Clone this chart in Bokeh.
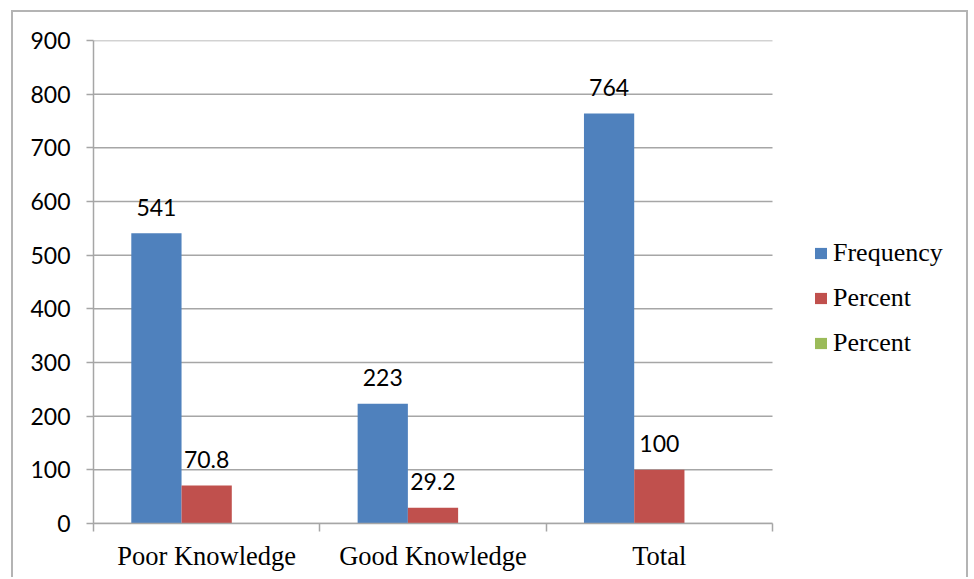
from bokeh.plotting import figure
from bokeh.models import (ColumnDataSource, FixedTicker, Legend, LegendItem,
                          LabelSet, Range1d)
from bokeh.core.properties import value
from bokeh.embed import file_html
from bokeh.resources import INLINE

# Knowledge level counts and shares
categories = ["Poor Knowledge", "Good Knowledge", "Total"]
frequency = [541, 223, 764]
percent = [70.8, 29.2, 100]
percent_2 = [0, 0, 0]
series_names = ["Frequency", "Percent", "Percent"]
series_colors = ["#4F81BD", "#C0504D", "#9BBB59"]
y_ticks = [0, 100, 200, 300, 400, 500, 600, 700, 800, 900]

BAR_W = 0.222
GRID = "#a6a6a6"
n_cat = len(categories)
centers = [i + 0.5 for i in range(n_cat)]

# the plotting area holds the categories on the left (679 px) and
# leaves room on its right for the legend
W, H = 957, 567
LEFT, RIGHT, TOP, BOTTOM = 80, 5, 28, 56
cat_px = 679
x_end = n_cat * (W - LEFT - RIGHT) / cat_px

p = figure(width=W, height=H, output_backend="svg", toolbar_location=None,
           x_range=Range1d(0, x_end), y_range=Range1d(0, 900),
           min_border_left=LEFT, min_border_top=TOP, min_border_right=RIGHT,
           min_border_bottom=BOTTOM)
p.styles = {"margin-left": "11px", "margin-top": "10px",
            "border": "2px solid #b4b4b4", "border-bottom": "none"}
p.outline_line_color = None
p.background_fill_color = "white"
p.border_fill_color = "white"

# horizontal gridlines across the category area only
p.xgrid.grid_line_color = None
p.ygrid.grid_line_color = None
p.segment(x0=[0] * len(y_ticks), x1=[n_cat] * len(y_ticks),
          y0=y_ticks, y1=y_ticks, line_color=GRID, line_width=1.5)

p.yaxis.ticker = FixedTicker(ticks=y_ticks)
p.yaxis.axis_line_color = GRID
p.yaxis.axis_line_width = 1.5
p.yaxis.major_tick_line_color = GRID
p.yaxis.major_tick_line_width = 1.5
p.yaxis.major_tick_out = 7
p.yaxis.major_tick_in = 0
p.yaxis.minor_tick_line_color = None
p.yaxis.major_label_standoff = 16
p.yaxis.major_label_text_font = "Lato"
p.yaxis.major_label_text_font_size = "23px"
p.yaxis.major_label_text_color = "black"

p.xaxis.bounds = (0, n_cat)
p.xaxis.ticker = FixedTicker(ticks=centers, minor_ticks=list(range(n_cat + 1)))
p.xaxis.major_label_overrides = {c: name for c, name in zip(centers, categories)}
p.xaxis.axis_line_color = GRID
p.xaxis.axis_line_width = 1.5
p.xaxis.major_tick_line_color = None
p.xaxis.major_tick_out = 8
p.xaxis.major_tick_in = 0
p.xaxis.minor_tick_line_color = GRID
p.xaxis.minor_tick_line_width = 1.5
p.xaxis.minor_tick_out = 8
p.xaxis.minor_tick_in = 0
p.xaxis.major_label_standoff = 9
p.xaxis.major_label_text_font = "Liberation Serif"
p.xaxis.major_label_text_font_size = "26.5px"
p.xaxis.major_label_text_color = "black"

# clustered bars
series = [frequency, percent, percent_2]
offsets = [-BAR_W, 0.0, BAR_W]
renderers = []
for vals, off, color in zip(series, offsets, series_colors):
    src = ColumnDataSource(dict(x=[c + off for c in centers], top=vals,
                                label=[f"{v:g}" for v in vals]))
    r = p.vbar(x="x", top="top", bottom=0, width=BAR_W, source=src,
               fill_color=color, line_color=None)
    renderers.append((r, src))

# value labels above the frequency and percent bars
for r, src in renderers[:2]:
    labels = LabelSet(x="x", y="top", text="label", source=src,
                      text_align="center", text_baseline="middle",
                      y_offset=26, text_font=value("Lato"),
                      text_font_size="23px", text_color="black")
    p.add_layout(labels)

legend = Legend(items=[LegendItem(label=n, renderers=[r])
                       for n, (r, _) in zip(series_names, renderers)],
                location=(720, 165), orientation="vertical")
legend.border_line_color = None
legend.background_fill_alpha = 0
legend.padding = 0
legend.margin = 0
legend.spacing = 15
legend.glyph_width = 15
legend.glyph_height = 14
legend.label_standoff = 5
legend.label_text_font = "Liberation Serif"
legend.label_text_font_size = "26px"
legend.label_text_color = "black"
p.add_layout(legend, "center")

open("out.html", "w").write(file_html(p, INLINE))
